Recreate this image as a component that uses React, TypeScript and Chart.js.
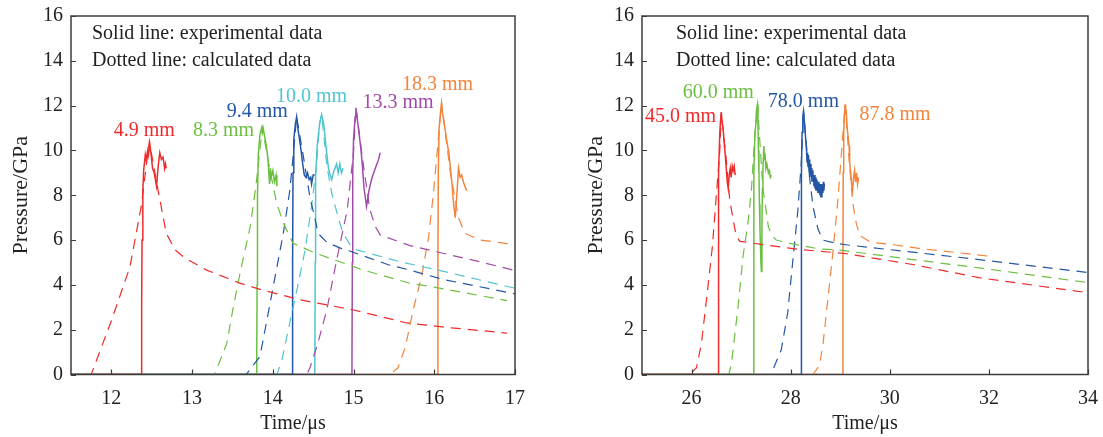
import React, { useEffect, useRef } from "react";
import { Chart, registerables } from "chart.js";

Chart.register(...registerables);

type Pt = [number, number];

const FONT = '"Liberation Serif", "Times New Roman", Times, serif';

// ---------- axes / texts ----------
const yTicks = [0, 2, 4, 6, 8, 10, 12, 14, 16];
const leftXTicks = [12, 13, 14, 15, 16, 17];
const rightXTicks = [26, 28, 30, 32, 34];
const xTitle = "Time/μs";
const yTitle = "Pressure/GPa";
const noteSolid = "Solid line: experimental data";
const noteDotted = "Dotted line: calculated data";

// ---------- colours ----------
const RED = "#ee2b2b";
const GREEN = "#6cbf40";
const BLUE = "#2456a6";
const CYAN = "#52c4d0";
const PURPLE = "#a24ba9";
const ORANGE = "#f2843c";

// ---------- left panel ----------
const leftNames = ["4.9 mm", "8.3 mm", "9.4 mm", "10.0 mm", "13.3 mm", "18.3 mm"];
const leftColors = [RED, GREEN, BLUE, CYAN, PURPLE, ORANGE];
const leftLabelX = [12.03, 13.01, 13.43, 14.04, 15.11, 15.6];
const leftLabelY = [10.9, 10.9, 11.72, 12.39, 12.12, 12.92];

const exp4_9: Pt[] = [[11.5, 0], [12.37, 0], [12.375, 3], [12.38, 6], [12.39, 8.2], [12.40, 9.1], [12.42, 9.8], [12.43, 9.6], [12.45, 10.0], [12.46, 9.8], [12.475, 10.3], [12.49, 9.9], [12.51, 9.2], [12.53, 9.0], [12.55, 8.6], [12.56, 8.4], [12.58, 9.3], [12.60, 9.9], [12.62, 9.6], [12.64, 9.7], [12.66, 9.2], [12.67, 9.4], [12.68, 9.2]];
const calc4_9: Pt[] = [[11.5, 0], [11.75, 0], [12.0, 2.4], [12.23, 4.8], [12.37, 7.5], [12.47, 10.4], [12.58, 8.2], [12.68, 6.3], [12.79, 5.56], [12.91, 5.2], [13.18, 4.66], [13.59, 4.08], [13.84, 3.8], [14.34, 3.33], [15.0, 2.88], [15.66, 2.3], [16.16, 2.1], [16.9, 1.85]];

const exp8_3: Pt[] = [[11.5, 0], [13.80, 0], [13.805, 4], [13.81, 8], [13.82, 9.8], [13.84, 10.7], [13.86, 11.0], [13.87, 10.8], [13.88, 11.0], [13.9, 10.6], [13.92, 10.2], [13.94, 9.6], [13.95, 9.0], [13.96, 8.5], [13.97, 9.2], [13.98, 8.8], [14.0, 9.1], [14.02, 8.6], [14.04, 8.9], [14.05, 8.4]];
const calc8_3: Pt[] = [[11.5, 0], [13.28, 0], [13.43, 1.4], [13.51, 3.0], [13.61, 4.8], [13.72, 6.6], [13.79, 8.4], [13.87, 11.0], [13.95, 9.4], [14.05, 7.6], [14.15, 6.6], [14.25, 5.86], [14.54, 5.4], [15.12, 4.66], [15.7, 4.07], [16.0, 3.9], [16.9, 3.3]];

const exp9_4: Pt[] = [[11.5, 0], [14.24, 0], [14.245, 5], [14.25, 9], [14.26, 10.5], [14.28, 11.2], [14.295, 11.5], [14.31, 11.0], [14.33, 10.5], [14.35, 10.0], [14.37, 9.4], [14.39, 8.9], [14.41, 8.8], [14.43, 9.0], [14.45, 8.7], [14.47, 8.8], [14.48, 8.5], [14.50, 8.9], [14.52, 8.9]];
const calc9_4: Pt[] = [[11.5, 0], [13.67, 0], [13.84, 0.8], [13.92, 2.3], [14.03, 4.4], [14.13, 6.3], [14.21, 8.2], [14.25, 9.7], [14.295, 11.5], [14.38, 9.7], [14.46, 7.9], [14.52, 7.0], [14.56, 6.3], [14.67, 5.9], [14.83, 5.65], [14.96, 5.5], [15.43, 4.9], [15.7, 4.66], [16.1, 4.25], [17.0, 3.6]];

const exp10_0: Pt[] = [[11.5, 0], [14.52, 0], [14.525, 5], [14.53, 8.8], [14.55, 10.2], [14.58, 11.2], [14.605, 11.6], [14.63, 11.2], [14.65, 10.5], [14.67, 9.8], [14.69, 9.2], [14.71, 8.9], [14.73, 8.7], [14.75, 9.0], [14.77, 9.2], [14.79, 9.4], [14.81, 9.0], [14.83, 9.4], [14.85, 9.0], [14.87, 9.2]];
const calc10_0: Pt[] = [[11.5, 0], [14.05, 0], [14.11, 0.6], [14.21, 2.3], [14.3, 3.8], [14.4, 5.56], [14.48, 7.5], [14.54, 9.3], [14.58, 11.2], [14.605, 11.6], [14.67, 9.3], [14.73, 8.1], [14.81, 7.0], [14.87, 6.3], [14.96, 5.78], [15.04, 5.56], [15.58, 5.03], [16.13, 4.59], [17.0, 3.85]];

const exp13_3: Pt[] = [[11.5, 0], [14.98, 0], [14.985, 5], [14.99, 9], [15.0, 10.5], [15.02, 11.5], [15.03, 11.9], [15.05, 11.3], [15.07, 10.7], [15.09, 10.1], [15.11, 9.3], [15.13, 8.3], [15.15, 7.8], [15.16, 7.5], [15.17, 7.7], [15.19, 8.2], [15.21, 8.5], [15.23, 8.8], [15.25, 9.0], [15.27, 9.2], [15.29, 9.4], [15.31, 9.6], [15.33, 9.9]];
const calc13_3: Pt[] = [[11.5, 0], [14.42, 0], [14.46, 0.3], [14.55, 1.3], [14.67, 2.9], [14.79, 5.1], [14.92, 7.3], [15.0, 9.9], [15.03, 11.9], [15.12, 9.4], [15.2, 7.4], [15.27, 6.6], [15.33, 6.23], [15.7, 5.75], [16.0, 5.5], [16.3, 5.25], [16.6, 5.0], [16.98, 4.66]];

const exp18_3: Pt[] = [[11.5, 0], [16.04, 0], [16.045, 5], [16.05, 9], [16.06, 11], [16.08, 11.8], [16.09, 12.1], [16.1, 11.7], [16.12, 11.3], [16.14, 10.8], [16.16, 10.3], [16.18, 9.9], [16.2, 9.2], [16.22, 8.5], [16.24, 7.6], [16.26, 7.0], [16.27, 7.5], [16.29, 8.6], [16.3, 9.2], [16.32, 8.8], [16.34, 8.9], [16.36, 8.6], [16.38, 8.4], [16.4, 8.2]];
const calc18_3: Pt[] = [[11.5, 0], [15.45, 0], [15.55, 0.3], [15.64, 1.2], [15.74, 2.9], [15.85, 4.5], [15.93, 6.15], [15.99, 8.1], [16.03, 9.7], [16.09, 12.1], [16.2, 9.0], [16.3, 7.0], [16.38, 6.3], [16.57, 6.0], [16.86, 5.86], [17.0, 5.78]];

const leftExp = [exp4_9, exp8_3, exp9_4, exp10_0, exp13_3, exp18_3];
const leftCalc = [calc4_9, calc8_3, calc9_4, calc10_0, calc13_3, calc18_3];

// ---------- right panel ----------
const rightNames = ["45.0 mm", "60.0 mm", "78.0 mm", "87.8 mm"];
const rightColors = [RED, GREEN, BLUE, ORANGE];
const rightLabelX = [25.06, 25.82, 27.54, 29.39];
const rightLabelY = [11.5, 12.57, 12.17, 11.58];

const exp45_0: Pt[] = [[25, 0], [26.535, 0], [26.54, 5], [26.55, 9], [26.57, 10.8], [26.59, 11.5], [26.6, 11.7], [26.62, 11.2], [26.64, 10.9], [26.66, 10.3], [26.68, 9.8], [26.70, 9.2], [26.72, 8.6], [26.74, 8.3], [26.76, 8.9], [26.78, 9.2], [26.80, 8.8], [26.82, 9.3], [26.84, 9.1], [26.86, 9.3], [26.88, 8.9]];
const calc45_0: Pt[] = [[25, 0], [25.97, 0], [26.1, 0.3], [26.2, 1.4], [26.33, 3.9], [26.42, 5.7], [26.5, 8.0], [26.57, 10.0], [26.6, 11.7], [26.7, 9.6], [26.77, 7.8], [26.84, 6.9], [26.9, 6.2], [26.97, 5.95], [27.17, 5.88], [27.44, 5.8], [28.18, 5.58], [29.1, 5.4], [30.46, 4.91], [31.8, 4.32], [34, 3.65]];

const exp60_0: Pt[] = [[25, 0], [27.25, 0], [27.255, 5], [27.26, 9], [27.28, 10.8], [27.30, 11.2], [27.31, 11.8], [27.33, 12.05], [27.34, 11.2], [27.35, 10.0], [27.36, 9.0], [27.37, 7.6], [27.38, 6.5], [27.39, 5.8], [27.40, 5.0], [27.41, 4.6], [27.42, 6.5], [27.43, 8.3], [27.44, 9.2], [27.46, 10.2], [27.47, 9.6], [27.48, 9.9], [27.50, 9.2], [27.52, 9.4], [27.55, 9.0], [27.57, 9.1], [27.59, 8.8], [27.61, 8.9]];
const calc60_0: Pt[] = [[25, 0], [26.75, 0], [26.8, 0.4], [26.94, 3.05], [27.04, 5.3], [27.14, 6.8], [27.21, 8.3], [27.27, 10.5], [27.33, 12.05], [27.44, 8.3], [27.55, 6.6], [27.61, 6.25], [27.71, 6.0], [27.98, 5.85], [28.58, 5.6], [29.0, 5.55], [30.46, 5.13], [31.8, 4.76], [34, 4.1]];

const exp78_0: Pt[] = [[25, 0], [28.21, 0], [28.215, 5], [28.22, 9], [28.23, 10.8], [28.245, 11.5], [28.26, 11.75], [28.28, 11.2], [28.30, 10.6], [28.32, 10.0], [28.33, 9.5], [28.34, 9.9], [28.35, 9.3], [28.36, 9.8], [28.37, 9.1], [28.38, 9.6], [28.39, 8.9], [28.40, 9.4], [28.41, 8.8], [28.42, 9.2], [28.43, 8.6], [28.44, 9.1], [28.45, 8.6], [28.46, 8.9], [28.47, 8.4], [28.48, 8.9], [28.49, 8.3], [28.50, 8.8], [28.51, 8.2], [28.52, 8.7], [28.53, 8.2], [28.54, 8.6], [28.55, 8.1], [28.56, 8.6], [28.57, 8.1], [28.58, 8.5], [28.59, 8.0], [28.60, 8.5], [28.61, 7.9], [28.62, 8.4], [28.63, 7.9], [28.64, 8.5], [28.65, 8.1], [28.66, 8.6], [28.67, 8.2], [28.68, 8.5]];
const calc78_0: Pt[] = [[25, 0], [27.6, 0], [27.81, 1.1], [27.94, 2.75], [28.04, 5.0], [28.14, 7.2], [28.21, 9.3], [28.26, 11.75], [28.35, 9.4], [28.45, 7.5], [28.55, 6.5], [28.65, 6.0], [28.92, 5.85], [29.15, 5.78], [30.46, 5.46], [31.8, 5.13], [34, 4.55]];

const exp87_8: Pt[] = [[25, 0], [29.05, 0], [29.055, 5], [29.06, 9], [29.07, 10.8], [29.085, 11.6], [29.1, 12.05], [29.11, 11.6], [29.12, 11.8], [29.14, 11.0], [29.16, 10.6], [29.18, 10.2], [29.19, 9.5], [29.21, 9.0], [29.23, 8.5], [29.25, 8.2], [29.27, 8.8], [29.29, 9.1], [29.31, 8.6], [29.33, 9.0], [29.35, 8.5], [29.37, 8.8]];
const calc87_8: Pt[] = [[25, 0], [28.45, 0], [28.58, 0.4], [28.65, 1.3], [28.75, 3.35], [28.85, 5.4], [28.95, 7.7], [29.02, 9.75], [29.1, 12.05], [29.18, 9.6], [29.25, 7.7], [29.32, 6.8], [29.39, 6.2], [29.62, 5.9], [30.12, 5.78], [30.59, 5.63], [31.6, 5.38], [32.0, 5.28]];

const rightExp = [exp45_0, exp60_0, exp78_0, exp87_8];
const rightCalc = [calc45_0, calc60_0, calc78_0, calc87_8];

// ---------- chart building ----------
type PanelCfg = {
  xMin: number;
  xMax: number;
  xTicks: number[];
  names: string[];
  colors: string[];
  labelX: number[];
  labelY: number[];
  exp: Pt[][];
  calc: Pt[][];
  yWidth: number;
  padRight: number;
  noteDx: number;
};

const framePlugin = {
  id: "frame",
  afterDatasetsDraw(chart: any, _args: any, opts: any) {
    const { ctx, chartArea: a, scales } = chart;
    ctx.save();
    ctx.strokeStyle = "#3c3c3c";
    ctx.lineWidth = 1.5;
    ctx.strokeRect(a.left, a.top, a.right - a.left, a.bottom - a.top);
    ctx.lineWidth = 1.2;
    ctx.beginPath();
    (opts.xTicks as number[]).forEach((v) => {
      const px = Math.round(scales.x.getPixelForValue(v)) + 0.5;
      ctx.moveTo(px, a.bottom);
      ctx.lineTo(px, a.bottom - 5);
    });
    (opts.yTicks as number[]).forEach((v) => {
      const py = Math.round(scales.y.getPixelForValue(v)) + 0.5;
      ctx.moveTo(a.left, py);
      ctx.lineTo(a.left + 5, py);
    });
    ctx.stroke();

    ctx.font = `20px ${FONT}`;
    ctx.textBaseline = "middle";
    ctx.textAlign = "left";
    ctx.fillStyle = "#222";
    ctx.fillText(noteSolid, a.left + opts.noteDx, a.top + 18);
    ctx.fillText(noteDotted, a.left + opts.noteDx, a.top + 45);

    (opts.names as string[]).forEach((n, i) => {
      ctx.fillStyle = opts.colors[i];
      ctx.fillText(
        n,
        scales.x.getPixelForValue(opts.labelX[i]),
        scales.y.getPixelForValue(opts.labelY[i])
      );
    });
    ctx.restore();
  },
};

function buildConfig(p: PanelCfg): any {
  const toXY = (arr: Pt[]) => arr.map(([x, y]) => ({ x, y }));
  const datasets: any[] = [];
  p.calc.forEach((c, i) =>
    datasets.push({
      data: toXY(c),
      borderColor: p.colors[i],
      borderWidth: 1.2,
      borderDash: [10, 7],
      pointRadius: 0,
      fill: false,
      tension: 0,
    })
  );
  p.exp.forEach((e, i) =>
    datasets.push({
      data: toXY(e),
      borderColor: p.colors[i],
      borderWidth: 1.5,
      pointRadius: 0,
      fill: false,
      tension: 0,
    })
  );
  return {
    type: "line",
    data: { datasets },
    options: {
      responsive: false,
      animation: false,
      events: [],
      layout: { padding: { left: 0, top: 16, right: p.padRight, bottom: 0 } },
      plugins: {
        legend: { display: false },
        tooltip: { enabled: false },
        frame: {
          xTicks: p.xTicks,
          yTicks,
          names: p.names,
          colors: p.colors,
          labelX: p.labelX,
          labelY: p.labelY,
          noteDx: p.noteDx,
        },
      },
      scales: {
        x: {
          type: "linear",
          min: p.xMin,
          max: p.xMax,
          grid: { display: false, drawTicks: false },
          border: { display: false },
          afterBuildTicks: (ax: any) => {
            ax.ticks = p.xTicks.map((v) => ({ value: v }));
          },
          afterFit: (ax: any) => {
            ax.height = 62.5;
            ax.paddingLeft = 0;
            ax.paddingRight = 0;
          },
          ticks: {
            font: { family: FONT, size: 20 },
            color: "#222",
            padding: 12,
            maxRotation: 0,
            autoSkip: false,
          },
          title: {
            display: true,
            text: xTitle,
            font: { family: FONT, size: 20 },
            color: "#222",
            padding: { top: 0, bottom: 1 },
          },
        },
        y: {
          type: "linear",
          min: 0,
          max: 16,
          grid: { display: false, drawTicks: false },
          border: { display: false },
          afterBuildTicks: (ax: any) => {
            ax.ticks = yTicks.map((v) => ({ value: v }));
          },
          afterFit: (ax: any) => {
            ax.width = p.yWidth;
            ax.paddingTop = 0;
            ax.paddingBottom = 0;
          },
          ticks: {
            font: { family: FONT, size: 20 },
            color: "#222",
            padding: 8,
            autoSkip: false,
          },
          title: {
            display: true,
            text: yTitle,
            font: { family: FONT, size: 22 },
            color: "#222",
            padding: { top: 8, bottom: 0 },
          },
        },
      },
    },
    plugins: [framePlugin],
  };
}

const leftPanel: PanelCfg = {
  xMin: 11.5,
  xMax: 17,
  xTicks: leftXTicks,
  names: leftNames,
  colors: leftColors,
  labelX: leftLabelX,
  labelY: leftLabelY,
  exp: leftExp,
  calc: leftCalc,
  yWidth: 71,
  padRight: 30,
  noteDx: 21,
};

const rightPanel: PanelCfg = {
  xMin: 25,
  xMax: 34,
  xTicks: rightXTicks,
  names: rightNames,
  colors: rightColors,
  labelX: rightLabelX,
  labelY: rightLabelY,
  exp: rightExp,
  calc: rightCalc,
  yWidth: 67,
  padRight: 15,
  noteDx: 34,
};

function Panel({ cfg, left, width }: { cfg: PanelCfg; left: number; width: number }) {
  const ref = useRef<HTMLCanvasElement>(null);
  useEffect(() => {
    if (!ref.current) return;
    const chart = new Chart(ref.current, buildConfig(cfg));
    return () => chart.destroy();
  }, [cfg]);
  return (
    <canvas
      ref={ref}
      width={width}
      height={437}
      style={{ position: "absolute", left, top: 0, width, height: 437, display: "block" }}
    />
  );
}

export default function App() {
  return (
    <div style={{ position: "absolute", left: 0, top: 0, width: 1103, height: 437, background: "#fff" }}>
      <Panel cfg={leftPanel} left={0} width={545} />
      <Panel cfg={rightPanel} left={575} width={528} />
    </div>
  );
}
